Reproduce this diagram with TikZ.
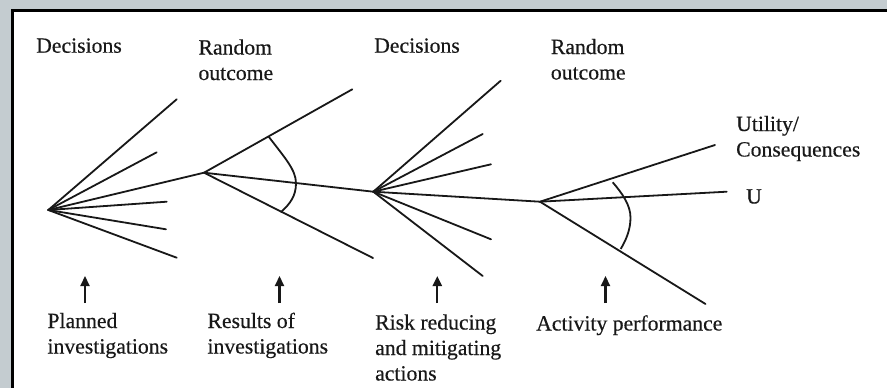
\documentclass[tikz,border=0pt]{standalone}
\usepackage{fontspec}
\setmainfont{Liberation Serif}
\newfontfamily\lblfont[FakeBold=0.4]{Liberation Serif}
\usetikzlibrary{arrows.meta}
\definecolor{frame}{RGB}{196,204,208}
\definecolor{ink}{RGB}{24,24,24}
\tikzset{
  branch/.style={draw=ink, line width=1.8pt, line cap=round},
  chance/.style={draw=ink, line width=1.8pt},
  upmark/.style={draw=ink, line width=2.2pt, -{Triangle[length=10pt,width=9pt]}},
  lbl/.style={inner sep=0pt, anchor=base west, align=left, text=ink,
              font=\lblfont\fontsize{21.7}{25.5}\selectfont},
}
\begin{document}
\begin{tikzpicture}[x=1pt,y=-1pt]
  \useasboundingbox (0,0) rectangle (887,388);
  \clip (0,0) rectangle (887,388);
  % page surround and framed panel
  \fill[frame] (0,0) rectangle (887,388);
  \filldraw[fill=white, draw=black, line width=2.6pt] (12.2,10.3) rectangle (900,400);

  % decision and chance points
  \coordinate (d1) at (48.3,210);
  \coordinate (r1) at (204,172.7);
  \coordinate (d2) at (373.3,191.7);
  \coordinate (r2) at (540,201.7);

  % branch ends
  \coordinate (a1) at (176.7,99.3);
  \coordinate (a2) at (156.7,152.3);
  \coordinate (a4) at (166.7,201.7);
  \coordinate (a5) at (166,229.3);
  \coordinate (a6) at (176.7,257.7);
  \coordinate (b1) at (352.3,89.3);
  \coordinate (b3) at (373,258);
  \coordinate (c1) at (500.7,80.7);
  \coordinate (c2) at (482.7,134);
  \coordinate (c3) at (491,164.3);
  \coordinate (c5) at (491,239.3);
  \coordinate (c6) at (482.7,276);
  \coordinate (u1) at (715,145);
  \coordinate (u2) at (726.7,191.7);
  \coordinate (u3) at (705.5,304);

  % first decision fan
  \foreach \e in {a1,a2,r1,a4,a5,a6} \draw[branch] (d1) -- (\e);
  % first random outcome
  \foreach \e in {b1,d2,b3} \draw[branch] (r1) -- (\e);
  \draw[chance] (268.7,136.7) .. controls (285,158) and (296,170) .. (296,183.3)
                .. controls (296,196) and (290,204) .. (280.7,212.3);
  % second decision fan
  \foreach \e in {c1,c2,c3,r2,c5,c6} \draw[branch] (d2) -- (\e);
  % second random outcome
  \foreach \e in {u1,u2,u3} \draw[branch] (r2) -- (\e);
  \draw[chance] (612.7,182.3) .. controls (622,193) and (630.5,205) .. (630.5,217.5)
                .. controls (630.5,230) and (626,240) .. (620.7,249);

  % stage headings (multi-line nodes sit on their last baseline)
  \node[lbl] (dec1) at (36,52.7) {Decisions};
  \node[lbl] (rnd1) at (198.3,80) {Random\\outcome};
  \node[lbl] (dec2) at (374,52.7) {Decisions};
  \node[lbl] (rnd2) at (550.7,79.5) {Random\\outcome};
  \node[lbl] (util) at (736,156.5) {Utility/\\Consequences};
  \node[lbl] (uval) at (746,203.5) {U};

  % stage descriptions
  \node[lbl] (plan) at (47.3,353.5) {Planned\\investigations};
  \node[lbl] (res)  at (207.3,353.5) {Results of\\investigations};
  \node[lbl] (risk) at (375,380.5) {Risk reducing\\and mitigating\\actions};
  \node[lbl] (act)  at (536,330.5) {Activity performance};

  % pointers from descriptions up to their stage
  \coordinate (p1) at (85,303);    \coordinate (q1) at (85,276);
  \coordinate (p2) at (279.5,303); \coordinate (q2) at (279.5,276);
  \coordinate (p3) at (437.3,303); \coordinate (q3) at (437.3,276);
  \coordinate (p4) at (605.5,303); \coordinate (q4) at (605.5,276);
  \foreach \i in {1,2,3,4} \draw[upmark] (p\i) -- (q\i);
\end{tikzpicture}
\end{document}
